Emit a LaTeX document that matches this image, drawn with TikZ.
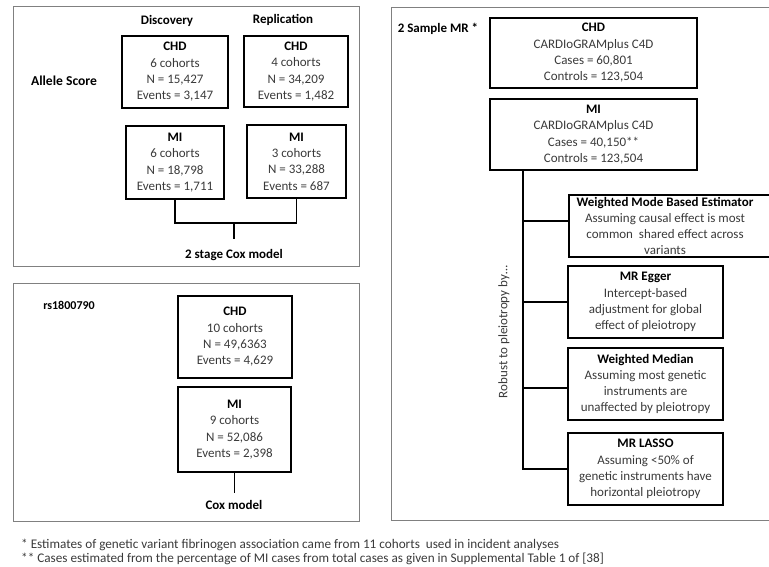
\documentclass[tikz,border=0pt]{standalone}
\usepackage{fontspec}
\setmainfont{Carlito}
\definecolor{txtgray}{HTML}{3A3A3A}
\definecolor{panelgray}{HTML}{808080}
\newcommand{\fs}{\fontsize{13}{16.3}\selectfont}
\newcommand{\fsn}{\fontsize{13.2}{15}\selectfont}
\newcommand{\ttl}[1]{{\color{black}\bfseries #1}}
\tikzset{
  panel/.style={draw=panelgray, line width=0.9pt},
  box/.style={draw=black, line width=1.8pt, align=center, inner sep=0pt, font=\fs, text=txtgray},
  lbl/.style={font=\bfseries\fs, text=black, inner sep=0pt},
  conn/.style={draw=black, line width=1.8pt},
  note/.style={font=\fsn, text=txtgray, anchor=west, inner sep=0pt},
}
\begin{document}
\begin{tikzpicture}[x=1pt,y=-1pt]
\useasboundingbox (0,0) rectangle (769,567);
% panels
\draw[panel] (13,6) rectangle (359,266);
\draw[panel] (13,283) rectangle (359,521);
\draw[panel] (780,7) -- (391,7) -- (391,520) -- (780,520);

% ---------- Allele score panel
\node[lbl] (disc) at (167,21) {Discovery};
\node[lbl] (repl) at (283,20) {Replication};
\node[lbl, font=\bfseries\fontsize{13.6}{16}\selectfont] (allele) at (64,81) {Allele Score};
\node[box, minimum width=106, minimum height=72] (achd1) at (175,72)
  {\ttl{CHD}\\6 cohorts\\N = 15,427\\Events = 3,147};
\node[box, minimum width=104, minimum height=71] (achd2) at (296,71.5)
  {\ttl{CHD}\\4 cohorts\\N = 34,209\\Events = 1,482};
\node[box, minimum width=98, minimum height=73] (ami1) at (175,162.5)
  {\ttl{MI}\\6 cohorts\\N = 18,798\\Events = 1,711};
\node[box, minimum width=99, minimum height=73] (ami2) at (296.5,161.5)
  {\ttl{MI}\\3 cohorts\\N = 33,288\\Events = 687};
\coordinate (aj) at (234,223);
\coordinate (aend) at (234,239);
\node[lbl] (cox2) at (234,255) {2 stage Cox model};
\draw[conn] (ami1.south) |- (aj) -| (ami2.south);
\draw[conn] (aj) -- (aend);

% ---------- rs1800790 panel
\node[lbl, font=\bfseries\fontsize{12}{15}\selectfont] (rs) at (69,305) {rs1800790};
\node[box, minimum width=114, minimum height=82] (bchd) at (235,337)
  {\ttl{CHD}\\10 cohorts\\N = 49,6363\\Events = 4,629};
\node[box, minimum width=113, minimum height=85] (bmi) at (234.5,429.5)
  {\ttl{MI}\\9 cohorts\\N = 52,086\\Events = 2,398};
\coordinate (bend) at (234.5,493);
\node[lbl] (cox1) at (234,505) {Cox model};
\draw[conn] (bmi.south) -- (bend);

% ---------- 2 sample MR panel
\node[lbl] (mr) at (438,29) {2 Sample MR *};
\node[box, minimum width=207, minimum height=70] (cchd) at (593.5,53)
  {\ttl{CHD}\\CARDIoGRAMplus C4D\\Cases = 60,801\\Controls = 123,504};
\node[box, minimum width=207, minimum height=71] (cmi) at (593.5,134.5)
  {\ttl{MI}\\CARDIoGRAMplus C4D\\Cases = 40,150**\\Controls = 123,504};
\node[box, minimum width=214, minimum height=62, anchor=west] (wmbe) at (568,226) {};
\node[align=center, font=\fs, text=txtgray, inner sep=0pt] (wmbetxt) at (665,226)
  {\ttl{Weighted Mode Based Estimator}\\Assuming causal effect is most\\common\ \ shared effect across\\variants};
\node[box, minimum width=155, minimum height=72] (egger) at (645.5,302)
  {\ttl{MR Egger}\\Intercept-based\\adjustment for global\\effect of pleiotropy};
\node[box, minimum width=155, minimum height=72] (wmed) at (645.5,384)
  {\ttl{Weighted Median}\\Assuming most genetic\\instruments are\\unaffected by pleiotropy};
\node[box, minimum width=155, minimum height=72] (lasso) at (645.5,469)
  {\ttl{MR LASSO}\\Assuming <50\% of\\genetic instruments have\\horizontal pleiotropy};
\coordinate (trunk) at (523,170);
\draw[conn] (trunk |- cmi.south) -- (trunk |- lasso.west) -- (lasso.west);
\draw[conn] ([yshift=5pt]trunk |- wmbe.west) -- ([yshift=5pt]wmbe.west);
\draw[conn] (trunk |- egger.west) -- (egger.west);
\draw[conn] ([yshift=-4pt]trunk |- wmed.west) -- ([yshift=-4pt]wmed.west);
\node[font=\fs, text=txtgray, rotate=90, inner sep=0pt] (robust) at (504,332) {Robust to pleiotropy by\dots};

% ---------- footnotes
\node[note] (fn1) at (21,545) {* Estimates of genetic variant fibrinogen association came from 11 cohorts\ \ used in incident analyses};
\node[note] (fn2) at (21,559) {** Cases estimated from the percentage of MI cases from total cases as given in Supplemental Table 1 of [38]};
\end{tikzpicture}
\end{document}
